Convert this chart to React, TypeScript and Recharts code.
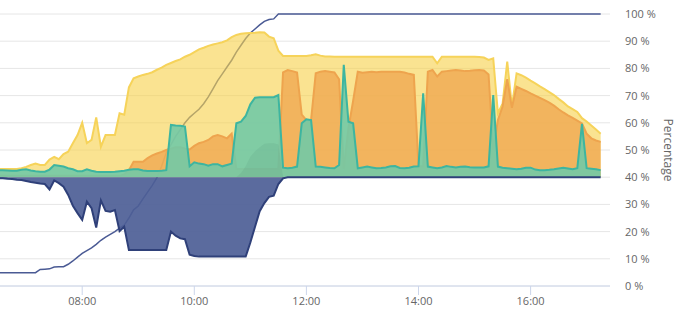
import React from 'react';
import { ComposedChart, Area, XAxis, YAxis, CartesianGrid } from 'recharts';

// minutes since midnight, 5 minute samples
const times = [
  390, 395, 400, 405, 410, 415, 420, 425, 430, 435, 440, 445,
  450, 455, 460, 465, 470, 475, 480, 485, 490, 495, 500, 505,
  510, 515, 520, 525, 530, 535, 540, 545, 550, 555, 560, 565,
  570, 575, 580, 585, 590, 595, 600, 605, 610, 615, 620, 625,
  630, 635, 640, 645, 650, 655, 660, 665, 670, 675, 680, 685,
  690, 695, 700, 705, 710, 715, 720, 725, 730, 735, 740, 745,
  750, 755, 760, 765, 770, 775, 780, 785, 790, 795, 800, 805,
  810, 815, 820, 825, 830, 835, 840, 845, 850, 855, 860, 865,
  870, 875, 880, 885, 890, 895, 900, 905, 910, 915, 920, 925,
  930, 935, 940, 945, 950, 955, 960, 965, 970, 975, 980, 985,
  990, 995, 1000, 1005, 1010, 1015, 1020, 1025, 1030, 1035,
];

const solar = [
  43, 43, 43, 43, 43, 43.3, 43.8, 44.5, 45, 44.5, 44.5, 46.5,
  47.5, 46.6, 48.5, 49.4, 52.5, 55.5, 60, 52.5, 53.7, 62, 51.2, 55.5,
  55.5, 55.5, 63.5, 63, 73, 76.4, 77, 77.6, 78, 78.6, 79.5, 80.3,
  81.3, 82, 82.7, 83.3, 84.3, 85, 86, 87, 87.6, 88.3, 88.8, 89.2,
  89.6, 90.3, 91.5, 92.3, 92.7, 92.9, 93, 93.1, 93.3, 93.2, 91.7, 91.1,
  86.5, 84.6, 84.6, 84.6, 84.6, 84.6, 84.6, 84.8, 85.2, 84.7, 84.4, 84.4,
  84.3, 84.3, 84.3, 84.3, 84.3, 84.3, 84.3, 84.3, 84.3, 84.3, 84.3, 84.3,
  84.3, 84.3, 84.3, 84.3, 84.3, 84.3, 84.3, 84.3, 84.3, 84.3, 81.9, 84.3,
  84.3, 84.3, 84.3, 84.3, 84.3, 84.3, 84.3, 84.2, 84, 83.1, 83.7, 63.5,
  67, 82.5, 66, 78.2, 77.5, 76.6, 75.5, 74.5, 73.4, 72.4, 71.3, 70.2,
  68.8, 67.5, 66, 65, 64, 61.7, 60.5, 59, 57.5, 56,
];

const consumption = [
  40.5, 40.5, 40.5, 40.5, 40.5, 40.5, 40.5, 40.5, 40.5, 40.5, 40.5, 40.5,
  40.5, 40.5, 40.5, 40.5, 40.5, 40.5, 40.5, 40.5, 40.5, 40.5, 40.5, 40.5,
  40.5, 40.5, 40.5, 41, 42.6, 45.7, 45.7, 45.7, 47, 48, 48.7, 49.3,
  50, 50.5, 51, 51, 50.5, 50.2, 51.5, 52.5, 53, 53.7, 55, 55.5,
  55, 54.3, 56, 43, 43, 43, 43, 43, 43, 43, 43, 43,
  43, 78.5, 79.4, 79, 78.5, 63, 61, 61, 78.2, 78.8, 79, 78.8,
  78.5, 76, 43, 58, 68, 78.8, 78.4, 78.6, 78.8, 78.6, 78.8, 78.8,
  78.8, 78.8, 78.8, 78.5, 78, 77.6, 44, 44, 78.8, 79.4, 77, 78.8,
  79, 79.2, 79.4, 79.2, 79, 79.1, 79.3, 79.4, 79.2, 77.8, 50, 61,
  66, 76, 65.5, 73.3, 72.5, 71.7, 70.8, 70, 69.2, 68.3, 67.4, 66.3,
  65, 63.8, 62.7, 61.8, 60.8, 59.8, 56, 54.3, 53.5, 53,
];

const grid = [
  42.6, 42.6, 42.5, 42.4, 42.4, 42.7, 42.9, 42.5, 42.2, 42, 42, 42.8,
  44.5, 44.2, 43.9, 43.3, 42.9, 42.2, 42.2, 42.9, 42.4, 42, 41.9, 41.9,
  41.9, 42, 42.2, 42.4, 42.7, 42.9, 42.9, 42.5, 42.3, 42.3, 42.3, 42.4,
  42.6, 59.2, 59, 58.9, 58.6, 44, 45.5, 45, 44.8, 44.2, 44.8, 44.8,
  44, 44.5, 45, 59.8, 60.4, 62.5, 66.8, 69.2, 69.4, 69.4, 69.4, 69.4,
  70.2, 43.5, 43.3, 43.5, 43.9, 59.8, 61.3, 61, 43.9, 43.8, 43.6, 43.4,
  43.3, 44.5, 81.3, 60.4, 59.8, 43.3, 43.6, 43.9, 43.6, 43.3, 43.4, 43.6,
  44, 44.1, 43.4, 43.3, 43.5, 43.9, 44, 70.8, 43.9, 43.6, 43.3, 43.6,
  44.1, 43.8, 43.6, 43.8, 43.9, 43.7, 43.6, 43.6, 43.6, 44, 70.2, 43.9,
  43.5, 43.3, 43.1, 42.9, 43.1, 43.5, 43.5, 42.8, 42.6, 42.6, 42.7, 42.9,
  43.2, 43.5, 43.2, 42.9, 43.3, 59.6, 43.3, 43.1, 42.9, 42.6,
];

const heatPump = [
  40, 40, 40, 40, 40, 40, 40, 40, 40, 40, 40, 40,
  40, 40, 40, 40, 40, 40, 40, 40, 40, 40, 40, 40,
  40, 40, 40, 40, 40, 40, 40, 40, 40, 40, 40, 40,
  40, 40, 40, 40, 40, 40, 40, 40, 40, 40, 40, 40,
  40, 40, 40, 40, 41.5, 44, 47.5, 49.5, 51, 52.3, 52.5, 52.5,
  52, 40, 40, 40, 40, 40, 40, 40, 40, 40, 40, 40,
  40, 40, 40, 40, 40, 40, 40, 40, 40, 40, 40, 40,
  40, 40, 40, 40, 40, 40, 40, 40, 40, 40, 40, 40,
  40, 40, 40, 40, 40, 40, 40, 40, 40, 40, 40, 40,
  40, 40, 40, 40, 40, 40, 40, 40, 40, 40, 40, 40,
  40, 40, 40, 40, 40, 40, 40, 40, 40, 40,
];

const battery = [
  39.6, 39.6, 39.4, 39.3, 39.1, 39, 38.6, 38.2, 38, 37.7, 37.5, 35.5,
  38.8, 37.8, 36.5, 33.5, 29.5, 26.8, 24.3, 31, 28.6, 21.5, 31.5, 27.6,
  27.3, 27.9, 20.2, 21.8, 13.2, 13.2, 13.2, 13.2, 13.2, 13.2, 13.2, 13.2,
  13.2, 20, 18.5, 17.5, 17.2, 11.5, 11, 10.8, 10.8, 10.8, 10.8, 10.8,
  10.8, 10.8, 10.8, 10.8, 10.8, 10.8, 16, 21.8, 27.5, 30.5, 32.8, 33.2,
  37.5, 39.6, 40, 40, 40, 40, 40, 40, 40, 40, 40, 40,
  40, 40, 40, 40, 40, 40, 40, 40, 40, 40, 40, 40,
  40, 40, 40, 40, 40, 40, 40, 40, 40, 40, 40, 40,
  40, 40, 40, 40, 40, 40, 40, 40, 40, 40, 40, 40,
  40, 40, 40, 40, 40, 40, 40, 40, 40, 40, 40, 40,
  40, 40, 40, 40, 40, 40, 40, 40, 40, 40,
];

const stateOfCharge = [
  4.9, 4.9, 4.9, 4.9, 4.9, 4.9, 4.9, 4.9, 4.9, 6.1, 6.2, 6.3,
  7, 7.1, 7.1, 8, 9.2, 10.6, 12, 13, 14, 15.3, 16.8, 18,
  19, 20, 21.3, 22.4, 25, 28, 29.4, 32, 34.5, 37, 39.8, 44,
  49, 52, 55, 57.5, 60, 62, 63.5, 65, 67, 69.5, 72.5, 75.5,
  78, 80.5, 83, 86, 88.5, 91, 93, 94.5, 96, 97.3, 98, 98.2,
  100, 100, 100, 100, 100, 100, 100, 100, 100, 100, 100, 100,
  100, 100, 100, 100, 100, 100, 100, 100, 100, 100, 100, 100,
  100, 100, 100, 100, 100, 100, 100, 100, 100, 100, 100, 100,
  100, 100, 100, 100, 100, 100, 100, 100, 100, 100, 100, 100,
  100, 100, 100, 100, 100, 100, 100, 100, 100, 100, 100, 100,
  100, 100, 100, 100, 100, 100, 100, 100, 100, 100,
];

const xTicks = [480, 600, 720, 840, 960];
const yTicks = [0, 10, 20, 30, 40, 50, 60, 70, 80, 90, 100];
const axisTitle = 'Percentage';

const chartData = times.map((t, i) => ({
  t,
  solar: solar[i],
  consumption: consumption[i],
  grid: grid[i],
  heatPump: heatPump[i],
  battery: battery[i],
  soc: stateOfCharge[i],
}));

const FONT = '"Open Sans", sans-serif';

const formatTime = (m: number) =>
  `${String(Math.floor(m / 60)).padStart(2, '0')}:${String(m % 60).padStart(2, '0')}`;

const AxisTitle = (props: any) => {
  const vb = props.viewBox || { x: 610, y: 14, width: 76, height: 272 };
  const cx = vb.x + 58;
  const cy = vb.y + vb.height / 2;
  return (
    <text
      x={cx}
      y={cy}
      transform={`rotate(90 ${cx} ${cy})`}
      textAnchor="middle"
      dominantBaseline="central"
      fill="#666666"
      fontSize={12}
      fontFamily={FONT}
    >
      {axisTitle}
    </text>
  );
};

export default function App() {
  return (
    <div style={{ position: 'absolute', left: 0, top: 0, fontFamily: FONT }}>
      <ComposedChart
        width={686}
        height={318}
        data={chartData}
        margin={{ top: 14, right: 0, bottom: 0, left: 0 }}
      >
        <CartesianGrid vertical={false} stroke="#e6e6e6" />
        <XAxis
          dataKey="t"
          type="number"
          domain={[392, 1045]}
          allowDataOverflow
          ticks={xTicks}
          tickFormatter={formatTime}
          height={32}
          tickSize={9}
          tickMargin={2}
          axisLine={{ stroke: '#ccd6eb' }}
          tickLine={{ stroke: '#ccd6eb' }}
          tick={{ fill: '#666666', fontSize: 11, fontFamily: FONT }}
        />
        <YAxis
          orientation="right"
          domain={[0, 100]}
          ticks={yTicks}
          tickFormatter={(v: number) => `${v} %`}
          width={76}
          axisLine={false}
          tickLine={false}
          tickMargin={9}
          tick={{ fill: '#666666', fontSize: 11, fontFamily: FONT, textAnchor: 'start' }}
          label={{ content: AxisTitle }}
        />
        <Area
          type="linear"
          dataKey="soc"
          stroke="#4a5a94"
          strokeWidth={1.5}
          fill="none"
          baseValue={0}
          isAnimationActive={false}
        />
        <Area
          type="linear"
          dataKey="solar"
          baseValue={40}
          stroke="#f6d35a"
          strokeWidth={2}
          fill="#f7d24e"
          fillOpacity={0.62}
          isAnimationActive={false}
        />
        <Area
          type="linear"
          dataKey="consumption"
          baseValue={40}
          stroke="#eea44e"
          strokeWidth={2}
          fill="#f0ac55"
          fillOpacity={0.85}
          isAnimationActive={false}
        />
        <Area
          type="linear"
          dataKey="grid"
          baseValue={40}
          stroke="#3db5a0"
          strokeWidth={2}
          fill="#72c9a6"
          fillOpacity={0.9}
          isAnimationActive={false}
        />
        <Area
          type="linear"
          dataKey="heatPump"
          baseValue={40}
          stroke="none"
          fill="#3d7a5f"
          fillOpacity={0.1}
          isAnimationActive={false}
        />
        <Area
          type="linear"
          dataKey="battery"
          baseValue={40}
          stroke="#2f4079"
          strokeWidth={2}
          fill="#4d5e96"
          fillOpacity={0.92}
          isAnimationActive={false}
        />
      </ComposedChart>
    </div>
  );
}
